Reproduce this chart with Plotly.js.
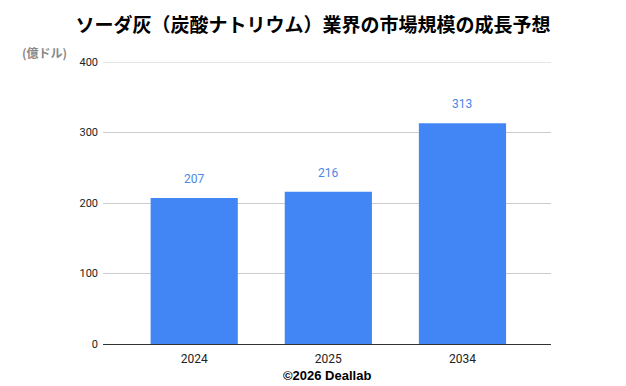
<!DOCTYPE html>
<html>
<head>
<meta charset="utf-8">
<script src="https://cdn.plot.ly/plotly-3.0.1.min.js"></script>
<style>html,body{margin:0;padding:0;background:#fff;}#chart{width:626px;height:386px;}</style>
</head>
<body>
<div id="chart"></div>
<script>
const categories = ["2024", "2025", "2034"];
const values = [207, 216, 313];
const yTicks = [0, 100, 200, 300, 400];

const trace = {
  type: "bar",
  x: categories,
  y: values,
  marker: {color: "#4285F4"},
  width: 0.65,
  hoverinfo: "none"
};

const labelAnnotations = categories.map((c, i) => ({
  x: i, y: values[i], xref: "x", yref: "y",
  text: String(values[i]), showarrow: false,
  yanchor: "bottom", yshift: 10,
  font: {family: "Roboto, sans-serif", size: 12, color: "#4a86e8"}
}));

const layout = {
  width: 626, height: 386,
  margin: {l: 103, r: 75, t: 62, b: 42},
  paper_bgcolor: "#fff", plot_bgcolor: "#fff",
  showlegend: false,
  title: {
    text: "ソーダ灰（炭酸ナトリウム）業界の市場規模の成長予想",
    font: {family: "Noto Sans CJK JP, sans-serif", size: 19, color: "#000", weight: "bold"},
    x: 0.5, xanchor: "center", y: 0.935, yanchor: "middle"
  },
  xaxis: {
    type: "category",
    range: [-0.68, 2.66],
    showgrid: false,
    showline: true, linecolor: "#333", linewidth: 1,
    ticks: "", ticklabelstandoff: 4,
    tickfont: {family: "Roboto, sans-serif", size: 12, color: "#222"},
    fixedrange: true
  },
  yaxis: {
    range: [0, 400],
    tickvals: yTicks,
    ticktext: yTicks.map(String),
    showgrid: true, gridcolor: "#cccccc", gridwidth: 1,
    zeroline: false,
    showline: false,
    ticks: "", ticklabelstandoff: 4,
    tickfont: {family: "Roboto, sans-serif", size: 11, color: "#222"},
    fixedrange: true
  },
  shapes: [{
    type: "line", xref: "paper", yref: "y",
    x0: 0, x1: 1, y0: yTicks[yTicks.length - 1], y1: yTicks[yTicks.length - 1],
    line: {color: "#cccccc", width: 1}, layer: "below"
  }],
  annotations: labelAnnotations.concat([
    {
      text: "(億ドル)", xref: "paper", yref: "paper",
      x: -0.185, y: 1.0, xanchor: "left", yanchor: "middle", yshift: 10,
      showarrow: false,
      font: {family: "Noto Sans CJK JP, sans-serif", size: 12, color: "#888", weight: "bold"}
    },
    {
      text: "©2026 Deallab", xref: "paper", yref: "paper",
      x: 0.5, y: 0, xanchor: "center", yanchor: "top", yshift: -22,
      showarrow: false,
      font: {family: "Liberation Sans, Arial, sans-serif", size: 13, color: "#000", weight: "bold"}
    }
  ])
};

Plotly.newPlot("chart", [trace], layout, {displayModeBar: false, staticPlot: true});
</script>
</body>
</html>
